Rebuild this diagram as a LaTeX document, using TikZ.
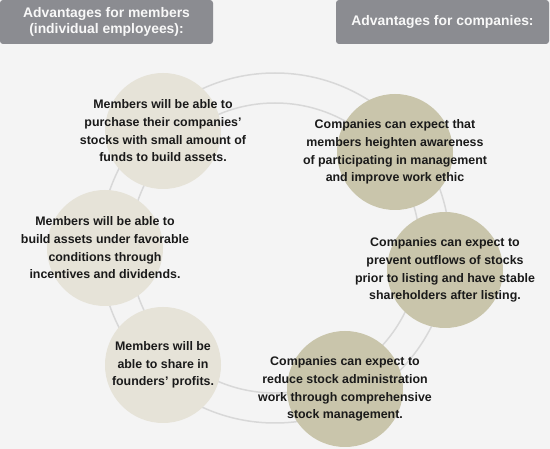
\documentclass[tikz,border=0pt]{standalone}
\usepackage{fontspec}
\setmainfont{Liberation Sans}
\usepackage{tikz}
\definecolor{bgpaper}{RGB}{244,244,244}
\definecolor{headgray}{RGB}{139,140,145}
\definecolor{ringgray}{RGB}{216,216,216}
\definecolor{membfill}{RGB}{230,227,216}
\definecolor{compfill}{RGB}{201,197,171}
\definecolor{inktext}{RGB}{26,26,26}

\begin{document}
\begin{tikzpicture}[x=1pt, y=-1pt,
  every node/.style={font=\fontsize{12.4}{17.7}\selectfont\bfseries, text=inktext},
  head/.style={fill=headgray, rounded corners=3pt, minimum width=213pt, minimum height=44pt, align=center, text=white!94!headgray, font=\fontsize{13.9}{16.2}\selectfont\bfseries},
  memb/.style={circle, fill=membfill, minimum size=116pt, inner sep=0pt},
  comp/.style={circle, fill=compfill, minimum size=116pt, inner sep=0pt},
  txt/.style={align=center, inner sep=0pt}]
\fill[bgpaper] (0,0) rectangle (550,449);
\useasboundingbox (0,0) rectangle (550,449);
% ring behind the circles
\coordinate (mid) at (275,248);
\draw[ringgray, line width=1.5pt] (mid) circle[radius=175];
\draw[ringgray, line width=1.5pt] (mid) circle[radius=145];
% headers
\node[head] (hm) at (106.5,22) {Advantages for members\\(individual employees):};
\node[head] (hc) at (442.5,22) {Advantages for companies:};
% members
\node[memb] (m1) at (163,131) {};
\node[memb] (m2) at (105,248) {};
\node[memb] (m3) at (163,365) {};
\node[txt] (m1t) at (m1) {Members will be able to\\purchase their companies'\\stocks with small amount of\\funds to build assets.};
\node[txt] (m2t) at (m2) {Members will be able to\\build assets under favorable\\conditions through\\incentives and dividends.};
\node[txt] (m3t) at (m3) {Members will be\\able to share in\\founders' profits.};
% companies
\node[comp] (c1) at (395,152) {};
\node[comp] (c2) at (445,270) {};
\node[comp] (c3) at (345,389) {};
\node[txt] (c1t) at (c1) {Companies can expect that\\members heighten awareness\\of participating in management\\and improve work ethic};
\node[txt] (c2t) at (c2) {Companies can expect to\\prevent outflows of stocks\\prior to listing and have stable\\shareholders after listing.};
\node[txt] (c3t) at (c3) {Companies can expect to\\reduce stock administration\\work through comprehensive\\stock management.};
\end{tikzpicture}
\end{document}
